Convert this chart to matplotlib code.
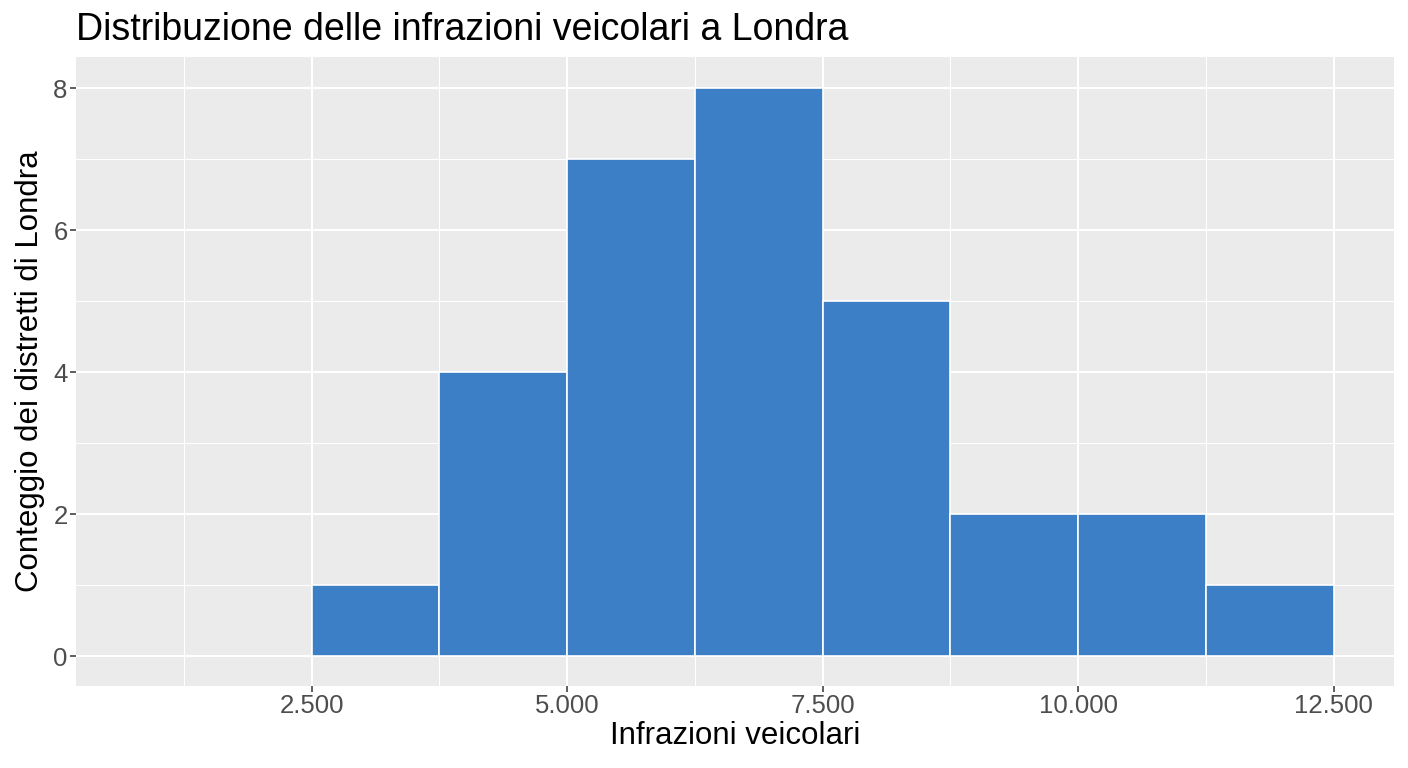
import matplotlib
matplotlib.use("Agg")
import matplotlib.pyplot as plt
import numpy as np
from matplotlib.ticker import FixedLocator, FuncFormatter

plt.rcParams['font.family'] = ['Liberation Sans', 'DejaVu Sans']

# Data
bin_edges = [2500, 3750, 5000, 6250, 7500, 8750, 10000, 11250, 12500]
counts = [1, 4, 7, 8, 5, 2, 2, 1]
x_ticks = [2500, 5000, 7500, 10000, 12500]
x_minor = [1250, 3750, 6250, 8750, 11250]
y_ticks = [0, 2, 4, 6, 8]
y_minor = [1, 3, 5, 7]

title = "Distribuzione delle infrazioni veicolari a Londra"
xlabel = "Infrazioni veicolari"
ylabel = "Conteggio dei distretti di Londra"

fig = plt.figure(figsize=(14.08, 7.68), dpi=100)
ax = fig.add_axes([0.054, 0.107, 0.936, 0.819])
ax.set_facecolor('#EBEBEB')

lefts = np.array(bin_edges[:-1])
widths = np.diff(bin_edges)
ax.bar(lefts, counts, width=widths, align='edge', color='#3D7FC6',
       edgecolor='white', linewidth=1.2, zorder=3)

ax.set_xlim(196, 13088)
ax.set_ylim(-0.42, 8.44)

ax.xaxis.set_major_locator(FixedLocator(x_ticks))
ax.xaxis.set_minor_locator(FixedLocator(x_minor))
ax.yaxis.set_major_locator(FixedLocator(y_ticks))
ax.yaxis.set_minor_locator(FixedLocator(y_minor))
ax.xaxis.set_major_formatter(FuncFormatter(lambda v, p: f"{int(v):,}".replace(",", ".")))

ax.grid(which='major', color='white', linewidth=1.5, zorder=0)
ax.grid(which='minor', color='white', linewidth=0.75, zorder=0)
ax.set_axisbelow(True)

for s in ax.spines.values():
    s.set_visible(False)

ax.tick_params(which='major', length=4, width=1.1, color='#333333',
               labelsize=18.5, labelcolor='#4D4D4D', pad=2)
ax.tick_params(which='minor', length=0)

ax.set_title(title, loc='left', fontsize=27, color='black', pad=12, x=0.0)
ax.set_xlabel(xlabel, fontsize=22.5, color='black', labelpad=2)
ax.set_ylabel(ylabel, fontsize=22.5, color='black', labelpad=6)

fig.savefig("out.png", dpi=100)
